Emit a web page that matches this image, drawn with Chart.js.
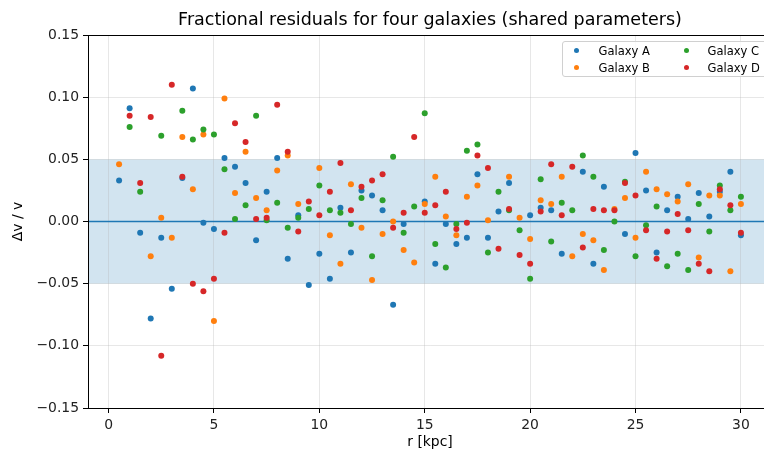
<!DOCTYPE html>
<html>
<head>
<meta charset="utf-8">
<script src="https://cdn.jsdelivr.net/npm/chart.js@4/dist/chart.umd.min.js"></script>
<style>
  html, body { margin: 0; padding: 0; overflow: hidden; background: #fff; width: 764px; height: 454px; }
  #wrap { position: relative; width: 776px; height: 454px; }
  #c { position: absolute; left: 0; top: 0; }
  #legend { position: absolute; left: 562px; top: 41px; width: 220px; height: 34px;
    background: rgba(255,255,255,0.8); border: 1px solid #d0d0d0; border-radius: 3px;
    font-family: "DejaVu Sans", sans-serif; font-size: 11.5px; color: #000; }
  .dot { position: absolute; width: 5px; height: 5px; border-radius: 50%; }
  .lab { position: absolute; line-height: 14px; white-space: nowrap; }
</style>
</head>
<body>
<div id="wrap">
  <canvas id="c" width="776" height="454"></canvas>
  <div id="legend"></div>
</div>
<script>
// ---- data ----
const radii = [0.5,1.0,1.5,2.0,2.5,3.0,3.5,4.0,4.5,5.0,5.5,6.0,6.5,7.0,7.5,8.0,8.5,9.0,9.5,10.0,
  10.5,11.0,11.5,12.0,12.5,13.0,13.5,14.0,14.5,15.0,15.5,16.0,16.5,17.0,17.5,18.0,18.5,19.0,19.5,20.0,
  20.5,21.0,21.5,22.0,22.5,23.0,23.5,24.0,24.5,25.0,25.5,26.0,26.5,27.0,27.5,28.0,28.5,29.0,29.5,30.0];

const galaxyA = [0.033,0.091,-0.009,-0.078,-0.013,-0.054,0.035,0.107,-0.001,-0.006,
  0.051,0.044,0.031,-0.015,0.024,0.051,-0.030,0.005,-0.051,-0.026,
  -0.046,0.011,-0.025,0.025,0.021,0.009,-0.067,-0.002,null,0.016,
  -0.034,-0.002,-0.018,-0.013,0.038,-0.013,0.008,0.031,null,0.005,
  0.011,0.009,-0.026,null,0.040,-0.034,0.028,null,-0.010,0.055,
  0.025,-0.025,0.009,0.020,0.002,0.023,0.004,0.024,0.040,-0.011];

const galaxyB = [0.046,null,null,-0.028,0.003,-0.013,0.068,0.026,0.070,-0.080,
  0.099,0.023,0.056,0.019,0.009,0.041,0.053,0.014,null,0.043,
  -0.011,-0.034,0.030,-0.005,-0.047,-0.010,0.000,-0.023,-0.033,0.014,
  0.036,0.004,-0.011,0.020,0.029,0.001,null,0.036,0.003,-0.014,
  0.017,0.014,0.036,-0.028,-0.010,-0.015,-0.039,0.010,0.019,-0.013,
  0.040,0.026,0.022,0.016,0.030,-0.029,0.021,0.021,-0.040,0.014];

const galaxyC = [null,0.076,0.024,null,0.069,null,0.089,0.066,0.074,0.070,
  0.042,0.002,0.013,0.085,0.001,0.015,-0.005,0.003,0.010,0.029,
  0.009,0.007,-0.002,0.019,-0.028,0.017,0.052,-0.009,0.012,0.087,
  -0.018,-0.037,-0.002,0.057,0.062,-0.025,0.024,0.009,-0.007,-0.046,
  0.034,-0.016,0.015,0.009,0.053,0.036,-0.023,0.000,0.032,-0.028,
  -0.003,0.012,-0.036,-0.026,-0.039,0.014,-0.008,0.029,0.009,0.020];

const galaxyD = [null,0.085,0.031,0.084,-0.108,0.110,0.036,-0.050,-0.056,-0.046,
  -0.009,0.079,0.064,0.002,0.003,0.094,0.056,-0.008,0.016,0.005,
  0.024,0.047,0.009,0.028,0.033,0.038,-0.005,0.007,0.068,0.007,
  0.013,0.024,-0.006,-0.001,0.053,0.043,-0.022,0.010,-0.027,-0.034,
  0.008,0.046,0.005,0.044,-0.021,0.010,0.009,0.009,0.031,0.021,
  -0.007,-0.030,-0.008,0.006,-0.007,-0.034,-0.040,0.026,0.013,-0.009];

const seriesNames = ["Galaxy A","Galaxy B","Galaxy C","Galaxy D"];
const seriesColors = ["#1f77b4","#ff7f0e","#2ca02c","#d62728"];
const xTicks = [0,5,10,15,20,25,30];
const yTicks = [-0.15,-0.10,-0.05,0,0.05,0.10,0.15];
const bandLow = -0.05, bandHigh = 0.05, refLine = 0;
const titleText = "Fractional residuals for four galaxies (shared parameters)";
const xLabel = "r [kpc]";
const yLabel = "\u0394v / v";

// ---- build ----
const allSeries = [galaxyA, galaxyB, galaxyC, galaxyD];
const datasets = allSeries.map((vals, k) => ({
  label: seriesNames[k],
  data: radii.map((r, i) => ({x: r, y: vals[i]})).filter(p => p.y !== null),
  backgroundColor: seriesColors[k],
  borderWidth: 0,
  pointRadius: 3,
  order: 3 - k
}));

const FONT = "DejaVu Sans";
const tickFont = {family: FONT, size: 13.9};
const gridColor = "rgba(176,176,176,0.3)";

const decor = {
  id: 'decor',
  beforeDraw(chart) {
    const {ctx, chartArea: a, scales: {y}} = chart;
    ctx.save();
    ctx.fillStyle = "rgba(31,119,180,0.2)";
    const t = y.getPixelForValue(bandHigh), b = y.getPixelForValue(bandLow);
    ctx.fillRect(a.left, t, a.right - a.left, b - t);
    ctx.restore();
  },
  beforeDatasetsDraw(chart) {
    const {ctx, chartArea: a, scales: {y}} = chart;
    ctx.save();
    ctx.strokeStyle = "#1f77b4";
    ctx.lineWidth = 1.5;
    const p = y.getPixelForValue(refLine);
    ctx.beginPath(); ctx.moveTo(a.left, p); ctx.lineTo(a.right, p); ctx.stroke();
    ctx.restore();
  },
  afterDatasetsDraw(chart) {
    const {ctx, chartArea: a} = chart;
    ctx.save();
    ctx.strokeStyle = "#000";
    ctx.lineWidth = 1;
    ctx.strokeRect(Math.round(a.left) + 0.5, Math.round(a.top) + 0.5,
      Math.round(a.right - a.left), Math.round(a.bottom - a.top));
    ctx.restore();
  }
};

new Chart(document.getElementById('c'), {
  type: 'scatter',
  data: {datasets},
  options: {
    responsive: false,
    animation: false,
    layout: {padding: {left: 0, right: 3, top: 0, bottom: 0}},
    plugins: {
      legend: {display: false},
      tooltip: {enabled: false},
      title: {
        display: true, text: titleText, fullSize: false,
        color: "#000",
        font: {family: FONT, size: 17.5, weight: 'normal'},
        padding: {top: 9.5, bottom: 4.5}
      }
    },
    scales: {
      x: {
        type: 'linear', min: -0.975, max: 31.475,
        afterBuildTicks: s => { s.ticks = xTicks.map(v => ({value: v})); },
        afterFit: s => { s.height = 46; },
        ticks: {font: tickFont, color: "#222", padding: 4, autoSkip: false, maxRotation: 0,
          callback: v => String(v)},
        grid: {color: gridColor, lineWidth: 1, tickColor: "#000", tickLength: 5},
        border: {color: "#000", width: 1},
        title: {display: true, text: xLabel, color: "#000", font: {family: FONT, size: 13.9},
          padding: {top: 0, bottom: 3}}
      },
      y: {
        type: 'linear', min: -0.15, max: 0.15,
        afterBuildTicks: s => { s.ticks = yTicks.map(v => ({value: v})); },
        afterFit: s => { s.width = 88; },
        ticks: {font: tickFont, color: "#222", padding: 4, autoSkip: false,
          callback: v => (v < -1e-9 ? "\u2212" : "") + Math.abs(v).toFixed(2)},
        grid: {color: gridColor, lineWidth: 1, tickColor: "#000", tickLength: 5},
        border: {color: "#000", width: 1},
        title: {display: true, text: yLabel, color: "#000", font: {family: FONT, size: 13.9},
          padding: {top: 10, bottom: 0}}
      }
    }
  },
  plugins: [decor]
});

// ---- legend (two columns, column-major) ----
const leg = document.getElementById('legend');
const colX = [[13, 35.5], [123, 144.5]];
const rowY = [8.5, 25.5];
seriesNames.forEach((name, k) => {
  const col = Math.floor(k / 2), row = k % 2;
  const d = document.createElement('div');
  d.className = 'dot';
  d.style.background = seriesColors[k];
  d.style.left = (colX[col][0] - 2.5) + 'px';
  d.style.top = (rowY[row] - 2.5) + 'px';
  leg.appendChild(d);
  const t = document.createElement('div');
  t.className = 'lab';
  t.textContent = name;
  t.style.left = colX[col][1] + 'px';
  t.style.top = (rowY[row] - 7) + 'px';
  leg.appendChild(t);
});
</script>
</body>
</html>
